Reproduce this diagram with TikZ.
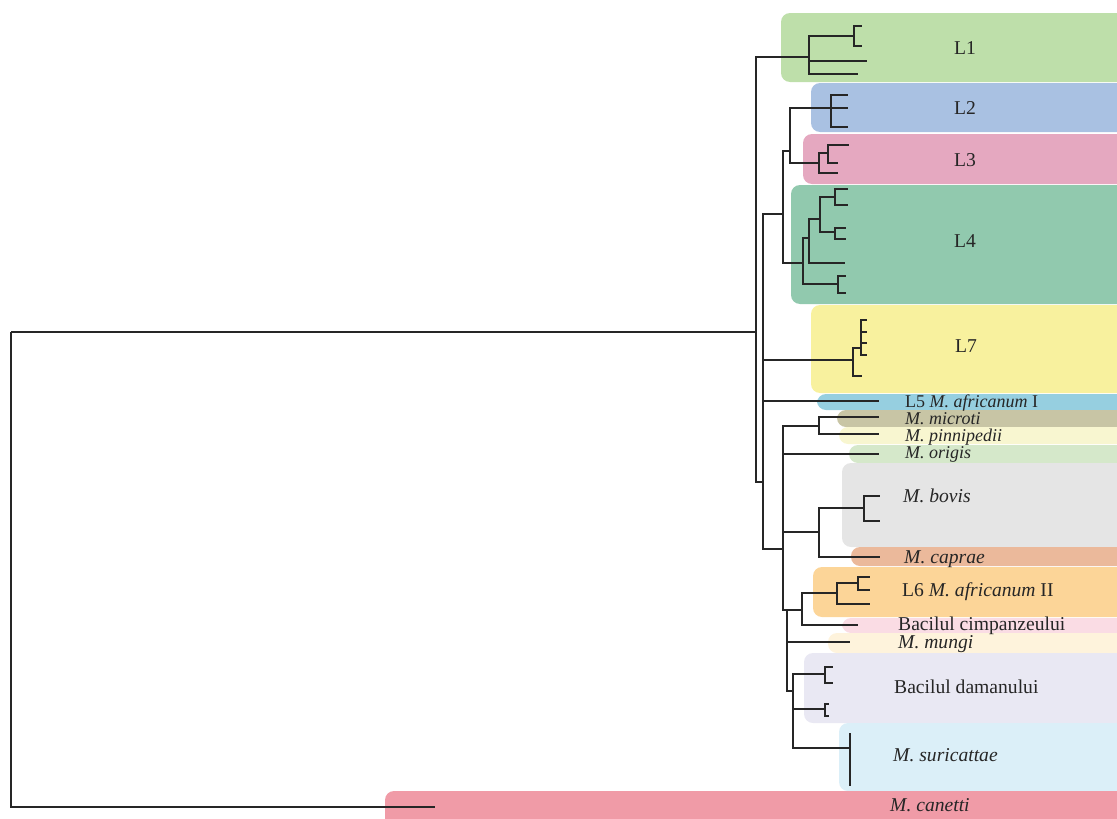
\documentclass[tikz,border=0pt]{standalone}
\usepackage{fontspec}
\setmainfont{Liberation Serif}
\usepackage{xcolor}
\usetikzlibrary{positioning,calc}

\definecolor{cLone}{HTML}{BEDFAA}
\definecolor{cLtwo}{HTML}{A9C1E2}
\definecolor{cLthree}{HTML}{E5A8C0}
\definecolor{cLfour}{HTML}{91C9AE}
\definecolor{cLseven}{HTML}{F8F19E}
\definecolor{cLfive}{HTML}{96CFE0}
\definecolor{cMic}{HTML}{C8C5A5}
\definecolor{cPin}{HTML}{F8F6D0}
\definecolor{cOri}{HTML}{D5E8CA}
\definecolor{cBov}{HTML}{E5E5E5}
\definecolor{cCap}{HTML}{EBB99B}
\definecolor{cLsix}{HTML}{FCD598}
\definecolor{cCim}{HTML}{FADCE4}
\definecolor{cMun}{HTML}{FEF3DC}
\definecolor{cDam}{HTML}{E9E8F3}
\definecolor{cSur}{HTML}{DBEFF8}
\definecolor{cCan}{HTML}{F09BA7}

\begin{document}
\begin{tikzpicture}[
        x=1pt, y=-1pt,
        every node/.style={font=\fontsize{19.6}{24}\selectfont, text=black!85},
        clade/.style={rounded corners=9pt},
        branch/.style={line width=1.6pt, draw=black!85},
        lineage/.style={inner sep=0pt, text height=0.68em, text depth=0pt, yshift=-3pt},
        taxon/.style={anchor=west, inner sep=0pt, text height=0.68em, text depth=0pt, yshift=-3pt},
        tight/.style={font=\fontsize{18}{20}\selectfont}
    ]

    \useasboundingbox (0,0) rectangle (1117,819);
    \clip (0,0) rectangle (1117,819);

    % coloured clade boxes
    \fill[clade, cLone]   (781,13)  rectangle (1140,82);
    \fill[clade, cLtwo]   (811,83)  rectangle (1140,132);
    \fill[clade, cLthree] (803,134) rectangle (1140,184);
    \fill[clade, cLfour]  (791,185) rectangle (1140,304);
    \fill[clade, cLseven] (811,305) rectangle (1140,393);
    \fill[clade, cLfive]  (817,394) rectangle (1140,410);
    \fill[clade, cMic]    (837,410) rectangle (1140,427);
    \fill[clade, cPin]    (839,427) rectangle (1140,444);
    \fill[clade, cOri]    (849,445) rectangle (1140,463);
    \fill[clade, cBov]    (842,463) rectangle (1140,547);
    \fill[clade, cCap]    (851,547) rectangle (1140,566);
    \fill[clade, cLsix]   (813,567) rectangle (1140,617);
    \fill[clade, cCim]    (842,618) rectangle (1140,633);
    \fill[clade, cMun]    (828,633) rectangle (1140,653);
    \fill[clade, cDam]    (804,653) rectangle (1140,723);
    \fill[clade, cSur]    (839,723) rectangle (1140,791);
    \fill[clade, cCan]    (385,791) rectangle (1140,840);

    % tree nodes
    \coordinate (root) at (11,332);
    \coordinate (n1) at (756,332);
    \coordinate (tcan) at (435,807);
    \coordinate (l1) at (809,57);
    \coordinate (l1a) at (854,36);
    \coordinate (l1t1) at (862,26);
    \coordinate (l1t2) at (862,46);
    \coordinate (l1t3) at (867,61);
    \coordinate (l1t4) at (858,74);
    \coordinate (n2) at (763,482);
    \coordinate (n3) at (783,214);
    \coordinate (n23) at (790,151);
    \coordinate (l2) at (831,108);
    \coordinate (l2t1) at (848,95);
    \coordinate (l2t2) at (848,108);
    \coordinate (l2t3) at (848,127);
    \coordinate (l3) at (819,163);
    \coordinate (l3a) at (828,153);
    \coordinate (l3t1) at (849,145);
    \coordinate (l3t2) at (838,163);
    \coordinate (l3t3) at (838,173);
    \coordinate (l4) at (803,263);
    \coordinate (l4a) at (809,238);
    \coordinate (l4b) at (838,284);
    \coordinate (l4c) at (820,219);
    \coordinate (l4d) at (835,197);
    \coordinate (l4e) at (835,232);
    \coordinate (l4t1) at (848,189);
    \coordinate (l4t2) at (848,205);
    \coordinate (l4t3) at (846,228);
    \coordinate (l4t4) at (846,239);
    \coordinate (l4t5) at (845,263);
    \coordinate (l4t6) at (846,276);
    \coordinate (l4t7) at (846,293);
    \coordinate (l7) at (853,360);
    \coordinate (l7a) at (861,348);
    \coordinate (l7t1) at (867,320);
    \coordinate (l7t2) at (867,332);
    \coordinate (l7t3) at (867,343);
    \coordinate (l7t4) at (867,355);
    \coordinate (l7t5) at (862,376);
    \coordinate (tl5) at (879,401);
    \coordinate (n4) at (783,549);
    \coordinate (n5) at (819,426);
    \coordinate (tmic) at (879,417);
    \coordinate (tpin) at (879,434);
    \coordinate (tori) at (879,454);
    \coordinate (n6) at (819,532);
    \coordinate (bov) at (864,508);
    \coordinate (bovt1) at (880,496);
    \coordinate (bovt2) at (880,521);
    \coordinate (tcap) at (880,557);
    \coordinate (n7) at (787,610);
    \coordinate (n67) at (802,610);
    \coordinate (l6) at (837,593);
    \coordinate (l6a) at (858,583);
    \coordinate (l6t1) at (870,577);
    \coordinate (l6t2) at (870,590);
    \coordinate (l6t3) at (870,604);
    \coordinate (tcim) at (858,625);
    \coordinate (tmun) at (850,642);
    \coordinate (n8) at (793,691);
    \coordinate (dam1) at (825,674);
    \coordinate (dam1t1) at (833,667);
    \coordinate (dam1t2) at (833,683);
    \coordinate (dam2) at (825,709);
    \coordinate (dam2t1) at (829,704);
    \coordinate (dam2t2) at (829,716);
    \coordinate (sur) at (850,748);
    \coordinate (surt1) at (850,733);
    \coordinate (surt2) at (850,786);

    % branches
    \foreach \a/\b in {root/n1, root/tcan, n1/l1, n1/n2,
            l1/l1a, l1/l1t3, l1/l1t4, l1a/l1t1, l1a/l1t2,
            n2/n3, n2/l7, n2/tl5, n2/n4,
            n3/n23, n3/l4, n23/l2, n23/l3,
            l2/l2t1, l2/l2t2, l2/l2t3,
            l3/l3a, l3/l3t3, l3a/l3t1, l3a/l3t2,
            l4/l4a, l4/l4b, l4a/l4c, l4a/l4t5, l4c/l4d, l4c/l4e,
            l4d/l4t1, l4d/l4t2, l4e/l4t3, l4e/l4t4, l4b/l4t6, l4b/l4t7,
            l7/l7a, l7/l7t5, l7a/l7t1, l7a/l7t2, l7a/l7t3, l7a/l7t4,
            n4/n5, n4/tori, n4/n6, n4/n7,
            n5/tmic, n5/tpin, n6/bov, n6/tcap, bov/bovt1, bov/bovt2,
            n7/n67, n7/tmun, n7/n8,
            n67/l6, n67/tcim, l6/l6a, l6/l6t3, l6a/l6t1, l6a/l6t2,
            n8/dam1, n8/dam2, n8/sur,
            dam1/dam1t1, dam1/dam1t2, dam2/dam2t1, dam2/dam2t2,
            sur/surt1, sur/surt2}
        \draw[branch] (\a) |- (\b);

    % lineage labels
    \node[lineage] (labL1) at (965,48) {L1};
    \node[lineage] (labL2) at (965,108) {L2};
    \node[lineage] (labL3) at (965,160) {L3};
    \node[lineage] (labL4) at (965,241) {L4};
    \node[lineage] (labL7) at (966,346) {L7};

    % taxon labels
    \node[taxon, tight] (labL5) at (905,401) {L5 \textit{M. africanum} I};
    \node[taxon, tight] (labMic) at (905,418) {\textit{M. microti}};
    \node[taxon, tight] (labPin) at (905,435) {\textit{M. pinnipedii}};
    \node[taxon, tight] (labOri) at (905,452) {\textit{M. origis}};
    \node[taxon] (labBov) at (903,496) {\textit{M. bovis}};
    \node[taxon] (labCap) at (904,557) {\textit{M. caprae}};
    \node[taxon] (labL6) at (902,590) {L6 \textit{M. africanum} II};
    \node[taxon] (labCim) at (898,624) {Bacilul cimpanzeului};
    \node[taxon] (labMun) at (898,642) {\textit{M. mungi}};
    \node[taxon] (labDam) at (894,687) {Bacilul damanului};
    \node[taxon] (labSur) at (893,755) {\textit{M. suricattae}};
    \node[taxon] (labCan) at (890,805) {\textit{M. canetti}};

\end{tikzpicture}
\end{document}
